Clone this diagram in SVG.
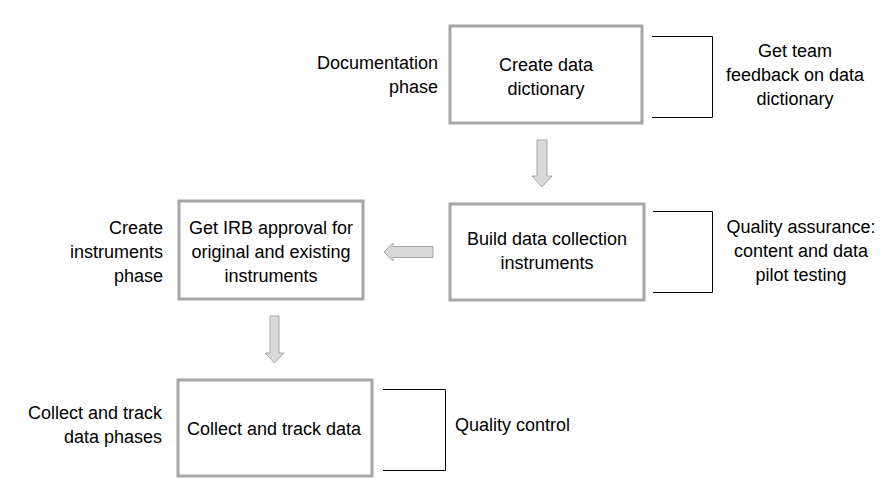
<svg xmlns="http://www.w3.org/2000/svg" width="889" height="498" viewBox="0 0 889 498">
<style>
text{font-family:"Liberation Sans",Arial,sans-serif;font-size:18px;fill:#000}
.box{fill:#fff;stroke:#a6a6a6;stroke-width:3}
.arr{fill:#d9d9d9;stroke:#a6a6a6;stroke-width:1}
.br{fill:none;stroke:#000;stroke-width:1}
.c{text-anchor:middle}
.r{text-anchor:end}
</style>
<rect width="889" height="498" fill="#fff"/>
<g id="connectors">
<polygon class="arr" points="537,140 547,140 547,176 552,176 542,187 532,176 537,176"/>
<polygon class="arr" points="433,246.5 433,257.5 393,257.5 393,261 384,252 393,243 393,246.5"/>
<polygon class="arr" points="270,316 279,316 279,353 284,353 274.5,363 265,353 270,353"/>
<polyline class="br" points="652,36.5 712.5,36.5 712.5,117.5 652,117.5"/>
<polyline class="br" points="653,211.5 712.5,211.5 712.5,292.5 653,292.5"/>
<polyline class="br" points="383,389.5 445.5,389.5 445.5,470.5 383,470.5"/>
</g>
<g id="node-dictionary">
<rect class="box" x="450" y="26" width="192" height="97"/>
<text class="c" x="546" y="71">Create data</text>
<text class="c" x="546" y="95">dictionary</text>
</g>
<g id="node-build">
<rect class="box" x="450" y="204" width="194" height="96"/>
<text class="c" x="547" y="245">Build data collection</text>
<text class="c" x="547" y="269">instruments</text>
</g>
<g id="node-irb">
<rect class="box" x="179" y="201" width="184" height="98"/>
<text class="c" x="271" y="234">Get IRB approval for</text>
<text class="c" x="271" y="258">original and existing</text>
<text class="c" x="271" y="282">instruments</text>
</g>
<g id="node-collect">
<rect class="box" x="178" y="380" width="194" height="96"/>
<text class="c" x="274" y="435">Collect and track data</text>
</g>
<g id="labels">
<text class="r" x="438" y="69">Documentation</text>
<text class="r" x="438" y="93">phase</text>
<text class="c" x="795" y="57">Get team</text>
<text class="c" x="795" y="81">feedback on data</text>
<text class="c" x="795" y="105">dictionary</text>
<text class="c" x="801" y="233">Quality assurance:</text>
<text class="c" x="801" y="257">content and data</text>
<text class="c" x="801" y="281">pilot testing</text>
<text class="r" x="163" y="234">Create</text>
<text class="r" x="163" y="258">instruments</text>
<text class="r" x="163" y="282">phase</text>
<text class="r" x="162" y="419">Collect and track</text>
<text class="r" x="162" y="443">data phases</text>
<text x="455" y="431">Quality control</text>
</g>
</svg>
